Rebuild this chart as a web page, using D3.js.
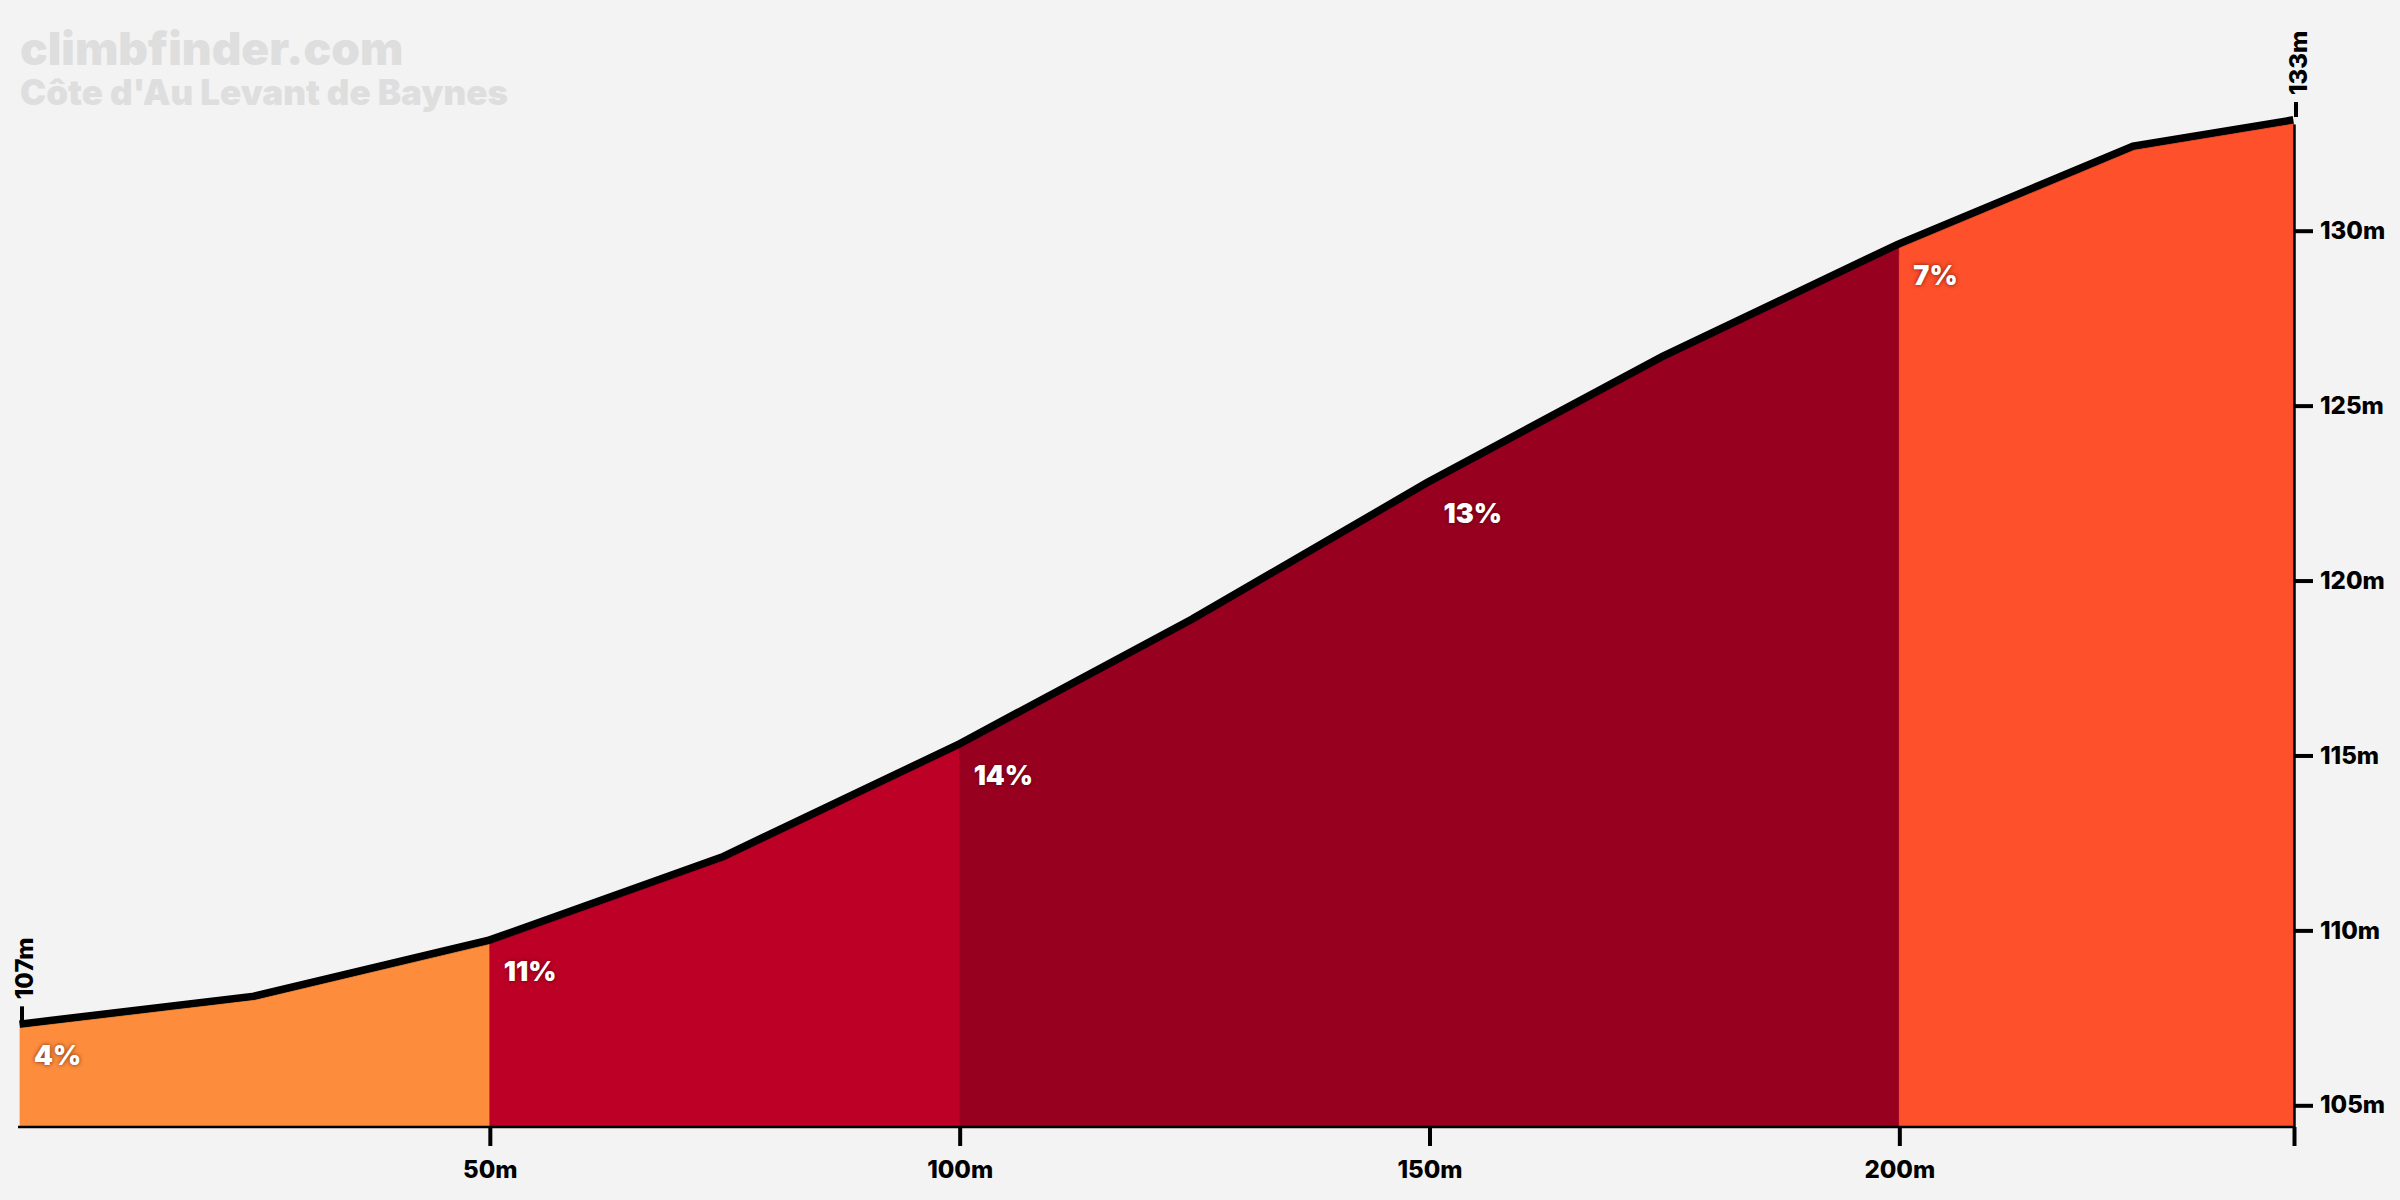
<!DOCTYPE html>
<html>
<head>
<meta charset="utf-8">
<script src="https://cdn.jsdelivr.net/npm/d3@7"></script>
<style>
  body { margin: 0; background: #f3f3f3; }
  svg text { font-family: Inter, "Noto Sans", sans-serif; font-weight: 800; }
  .title { font-weight: 900; }
  .grade { font-weight: 900; text-shadow: 0 0 4px rgba(60,0,0,0.7); }
</style>
</head>
<body>
<div class="profile"></div>
<script>
// profile: distance (m) and elevation (m)
const distances = [0, 25, 50, 75, 100, 125, 150, 175, 200, 225, 242];
const elevations = [107.2, 108.0, 109.6, 112.0, 115.2, 118.8, 122.7, 126.3, 129.5, 132.3, 133.05];

// gradient segments
const segStarts = [0, 50, 100, 150, 200];
const segEnds = [50, 100, 150, 200, 242];
const segGrades = ['4%', '11%', '14%', '13%', '7%'];
const segColors = ['#fd8d3c', '#bd0026', '#980020', '#980020', '#fd502b'];

const xTicks = [50, 100, 150, 200, 242];
const yTicks = [105, 110, 115, 120, 125, 130];
const startLabel = '107m';
const endLabel = '133m';
const siteName = 'climbfinder.com';
const climbName = "Côte d'Au Levant de Baynes";

const width = 2400, height = 1200;

const svg = d3.select('.profile')
  .append('svg')
  .attr('width', width)
  .attr('height', height);

svg.append('rect').attr('width', width).attr('height', height).attr('fill', '#f3f3f3');

const xScale = d3.scaleLinear().domain([0, 242]).range([20, 2294]);
const yScale = d3.scaleLinear().domain([104.38, 133.05]).range([1127, 124]);

const points = distances.map((d, i) => ({dist: d, elev: elevations[i]}));

// elevation at any distance (linear between read points)
function elevAt(d) {
  const i = d3.bisectLeft(distances, d);
  if (distances[i] === d) return elevations[i];
  const t = (d - distances[i - 1]) / (distances[i] - distances[i - 1]);
  return elevations[i - 1] + t * (elevations[i] - elevations[i - 1]);
}

// title
svg.append('text').attr('class', 'title').attr('x', 20).attr('y', 65).attr('font-size', 46)
  .attr('fill', '#dedede').text(siteName);
svg.append('text').attr('class', 'title').attr('x', 20).attr('y', 105).attr('font-size', 35)
  .attr('fill', '#dedede').text(climbName);

// thick black profile line (its lower half gets covered by the fill)
const line = d3.line().x(d => xScale(d.dist)).y(d => yScale(d.elev));
svg.append('path')
  .datum(points)
  .attr('fill', 'none')
  .attr('stroke', 'black')
  .attr('stroke-width', 16)
  .attr('d', line);

// coloured areas per segment
const area = d3.area()
  .x(d => xScale(d.dist))
  .y0(yScale.range()[0])
  .y1(d => yScale(d.elev));

segStarts.forEach((s, i) => {
  const e = segEnds[i];
  const pts = points.filter(p => p.dist > s && p.dist < e);
  const seg = [{dist: s, elev: elevAt(s)}, ...pts, {dist: e, elev: elevAt(e)}];
  svg.append('path')
    .datum(seg)
    .attr('fill', segColors[i])
    .attr('stroke', segColors[i])
    .attr('stroke-width', 0.8)
    .attr('d', area);
});

// grade labels
svg.selectAll('text.grade')
  .data(segStarts)
  .enter()
  .append('text')
  .attr('class', 'grade')
  .attr('x', d => xScale(d) + 14)
  .attr('y', d => yScale(elevAt(d)) + 37)
  .attr('font-size', 27)
  .attr('fill', 'white')
  .text((d, i) => segGrades[i]);

// bottom axis
const xAxis = d3.axisBottom(xScale)
  .tickValues(xTicks)
  .tickSize(19)
  .tickSizeOuter(0)
  .tickPadding(15)
  .tickFormat(d => d === 242 ? '' : d + 'm');

const gx = svg.append('g')
  .attr('transform', 'translate(0,' + yScale.range()[0] + ')')
  .call(xAxis);
gx.select('.domain').attr('stroke', 'black').attr('stroke-width', 2.5)
  .attr('d', 'M18,0H2295');
gx.selectAll('.tick line').attr('stroke', 'black').attr('stroke-width', 4);
gx.selectAll('.tick text').attr('fill', 'black').attr('font-size', 24)
  .attr('font-family', 'Inter');

// right axis
const yAxis = d3.axisRight(yScale)
  .tickValues(yTicks)
  .tickSize(19)
  .tickSizeOuter(0)
  .tickPadding(7)
  .tickFormat(d => d + 'm');

const gy = svg.append('g')
  .attr('transform', 'translate(' + xScale.range()[1] + ',0)')
  .call(yAxis);
gy.select('.domain').attr('stroke', 'black').attr('stroke-width', 2.5);
gy.selectAll('.tick line').attr('stroke', 'black').attr('stroke-width', 4);
gy.selectAll('.tick text').attr('fill', 'black').attr('font-size', 24)
  .attr('font-family', 'Inter');

// start and end markers
const ends = [
  {dist: 0, label: startLabel, dx: 2, tx: 11},
  {dist: 242, label: endLabel, dx: 2, tx: 11}
];
ends.forEach(e => {
  const ex = xScale(e.dist) + e.dx;
  const ey = yScale(elevAt(e.dist)) - 7;
  svg.append('line')
    .attr('x1', ex).attr('x2', ex)
    .attr('y1', ey).attr('y2', ey - 15)
    .attr('stroke', 'black').attr('stroke-width', 4);
  svg.append('text')
    .attr('transform', 'translate(' + (ex + e.tx) + ',' + (ey - 22) + ') rotate(-90)')
    .attr('font-size', 24)
    .attr('fill', 'black')
    .text(e.label);
});
</script>
</body>
</html>
